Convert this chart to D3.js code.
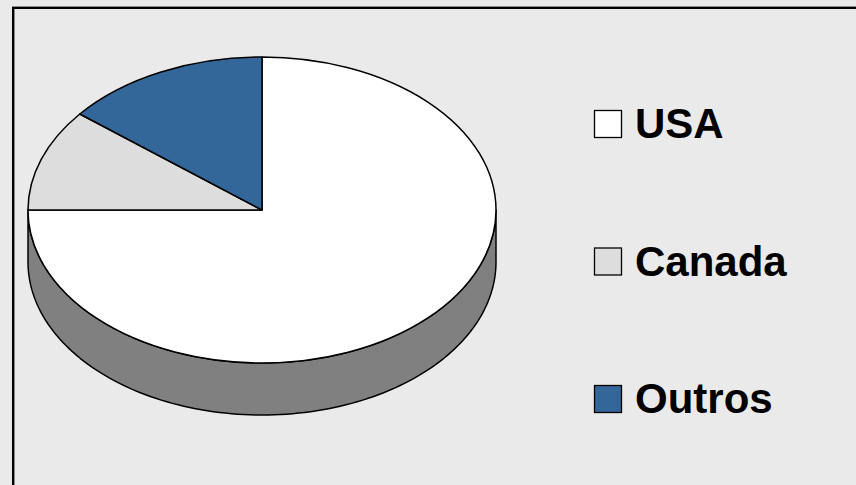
<!DOCTYPE html>
<html><head><meta charset="utf-8">
<script src="https://cdn.jsdelivr.net/npm/d3@7"></script>
<style>html,body{margin:0;padding:0;background:#eaeaea;}svg{display:block;}</style>
</head><body>
<svg id="chart" width="856" height="485"></svg>
<script>
const categories = ["USA", "Canada", "Outros"];
const values = [75, 10.8, 14.2];
const colors = ["#ffffff", "#dddddd", "#336699"];

const svg = d3.select("#chart");
svg.append("rect").attr("width", 856).attr("height", 485).attr("fill", "#eaeaea");
// frame
svg.append("line").attr("x1", 12).attr("x2", 900).attr("y1", 6.5).attr("y2", 6.5).attr("stroke", "#8a8a8a").attr("stroke-width", 1);
svg.append("line").attr("x1", 14.5).attr("x2", 14.5).attr("y1", 9).attr("y2", 500).attr("stroke", "#8a8a8a").attr("stroke-width", 1);
svg.append("rect").attr("x", 13).attr("y", 8).attr("width", 900).attr("height", 600)
  .attr("fill", "none").attr("stroke", "#000").attr("stroke-width", 2);

const cx = 262, cy = 210, rx = 234, ry = 153, depth = 52;
const k = ry / rx;

// side (front half)
const sideY = d3.scaleLinear().domain([0, 1]).range([0, depth]);
const side = d3.path();
side.moveTo(cx - rx, cy);
side.lineTo(cx - rx, cy + sideY(1));
const N = 120;
for (let i = 0; i <= N; i++) {
  const a = Math.PI - Math.PI * i / N;
  side.lineTo(cx + rx * Math.cos(a), cy + sideY(1) + ry * Math.sin(a));
}
side.lineTo(cx + rx, cy);
for (let i = 0; i <= N; i++) {
  const a = Math.PI * i / N;
  side.lineTo(cx + rx * Math.cos(a), cy + ry * Math.sin(a));
}
side.closePath();
svg.append("path").attr("d", side.toString()).attr("fill", "#808080")
  .attr("stroke", "#000").attr("stroke-width", 1.5).attr("stroke-linejoin", "round");

// top
const pie = d3.pie().sort(null).value(d => d)(values);
const arc = d3.arc().innerRadius(0).outerRadius(rx);
const g = svg.append("g").attr("transform", `translate(${cx},${cy}) scale(1,${k})`);
g.selectAll("path").data(pie).join("path")
  .attr("d", arc)
  .attr("fill", (d, i) => colors[i])
  .attr("stroke", "#000").attr("stroke-width", 1.5)
  .attr("vector-effect", "non-scaling-stroke")
  .attr("stroke-linejoin", "round");

// legend
const ly = d3.scalePoint().domain(categories).range([138, 413]);
const lg = svg.append("g").selectAll("g").data(categories).join("g")
  .attr("transform", d => `translate(0,${ly(d)})`);
lg.append("rect").attr("x", 594.5).attr("y", -27.5).attr("width", 27).attr("height", 27)
  .attr("fill", (d, i) => colors[i]).attr("stroke", "#000").attr("stroke-width", 1.3);
lg.append("text").attr("x", 635).attr("y", 0).text(d => d)
  .attr("font-family", "Liberation Sans, Arial, sans-serif").attr("font-weight", "bold")
  .attr("font-size", 42).attr("fill", "#000");
</script>
</body></html>
